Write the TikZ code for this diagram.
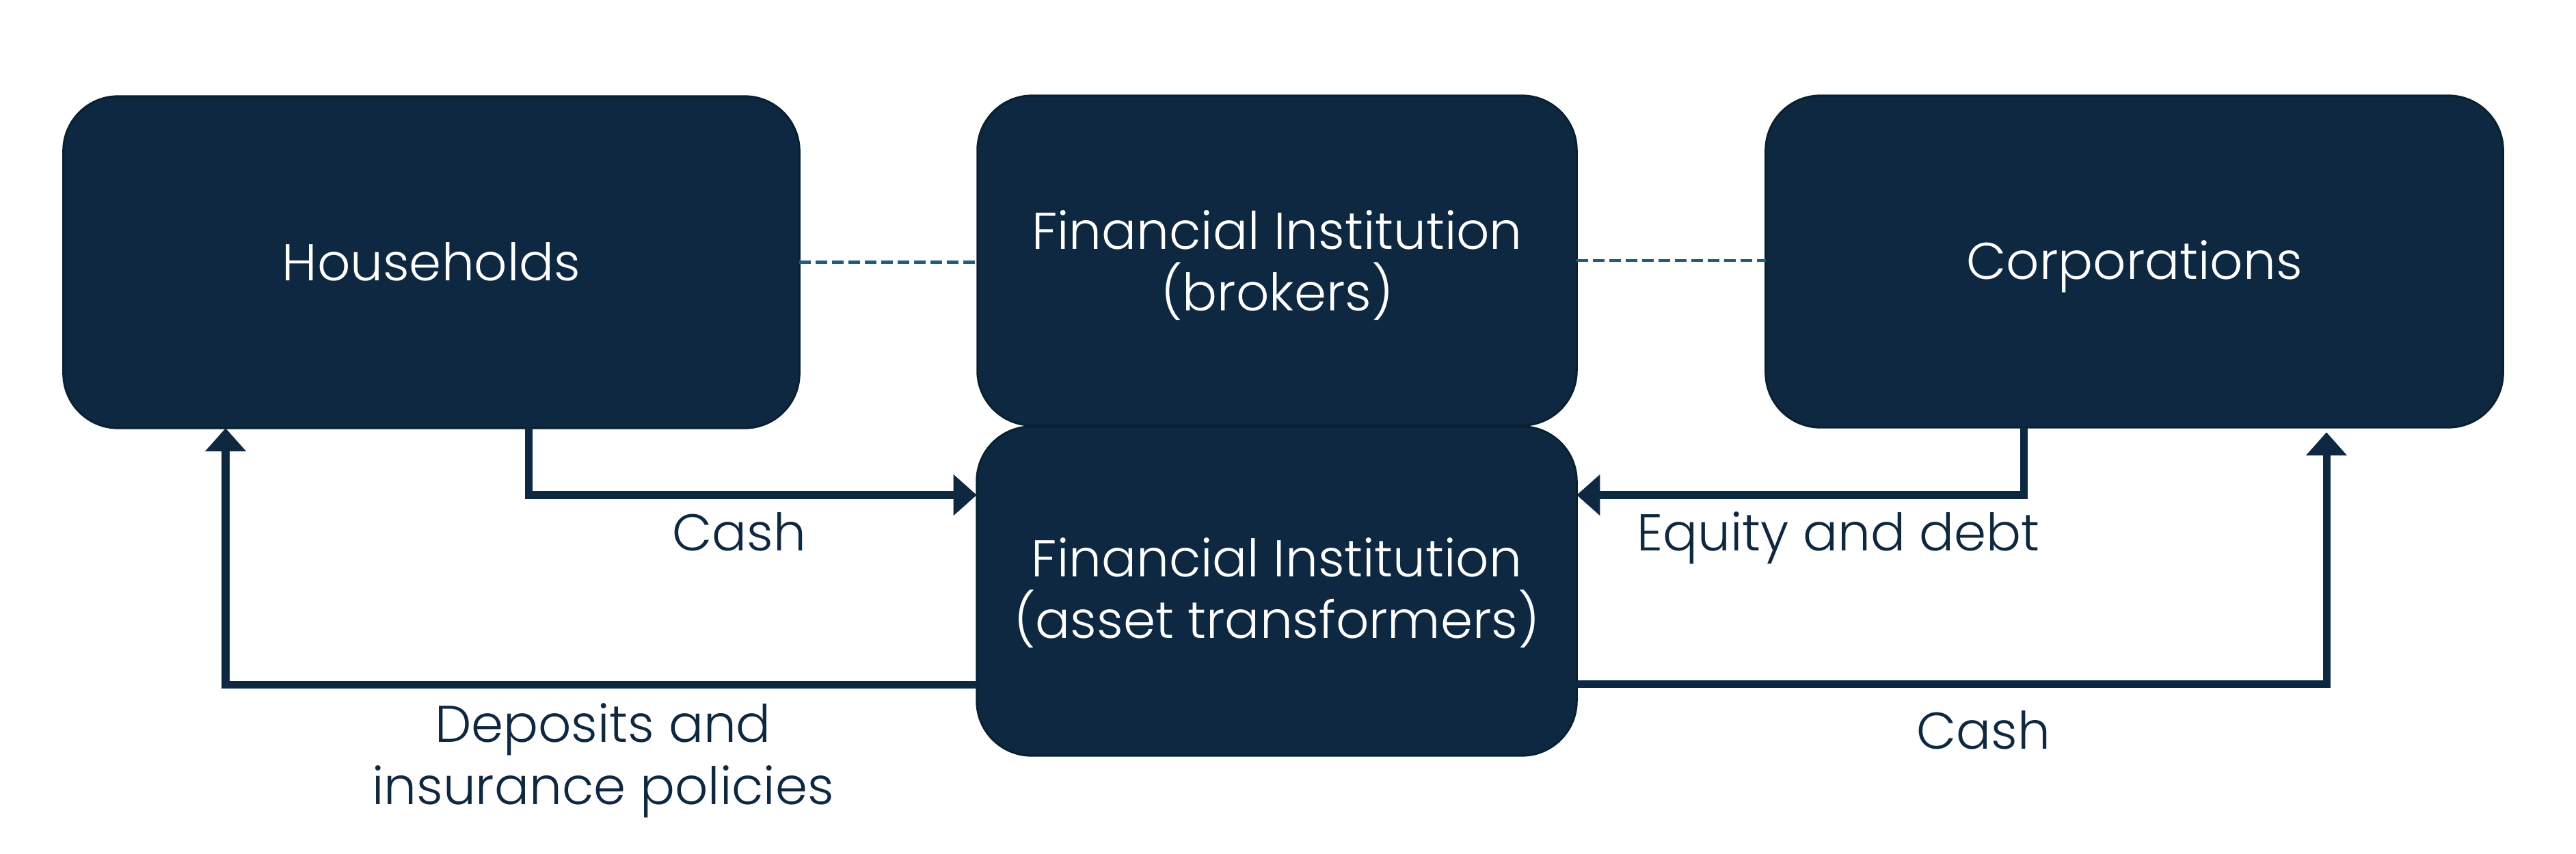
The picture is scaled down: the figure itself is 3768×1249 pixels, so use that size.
\documentclass[tikz,border=0pt]{standalone}
\usepackage{fontspec}
\setmainfont{Poppins}[UprightFont=* Light]
\usetikzlibrary{arrows.meta,calc}
\definecolor{navy}{HTML}{0E2841}
\definecolor{navyedge}{HTML}{08202F}
\definecolor{dashblue}{HTML}{1E5F80}
\begin{document}
\begin{tikzpicture}[x=0.01cm,y=-0.01cm,
  box/.style={draw=navyedge, line width=0.03cm, fill=navy, rounded corners=0.8cm,
    text=white, align=center, inner sep=0pt, outer sep=0pt,
    font=\fontsize{21.5}{25.6}\selectfont, text depth=0.25cm},
  link/.style={draw=dashblue, line width=0.045cm, dash pattern=on 0.17cm off 0.07cm},
  flow/.style={draw=navy, line width=0.11cm, -{Triangle[length=0.34cm,width=0.58cm]}},
  lbl/.style={text=navy, align=center, inner sep=0pt,
    font=\fontsize{21.5}{25.6}\selectfont}]
\useasboundingbox (0,0) rectangle (3768,1249);
\fill[white] (0,0) rectangle (3768,1249);
% boxes
\node[box, text height=0.78cm, minimum width=10.76cm, minimum height=4.85cm] (hh) at (631,383.5) {Households};
\node[box, text height=1.71cm, minimum width=8.76cm, minimum height=4.82cm] (br) at (1868,381) {Financial Institution\\(brokers)};
\node[box, text height=1.62cm, minimum width=8.77cm, minimum height=4.81cm] (at) at (1867.5,864.5) {Financial Institution\\(asset transformers)};
\node[box, text height=0.76cm, minimum width=10.78cm, minimum height=4.85cm] (co) at (3122,382.5) {Corporations};
% dashed links
\draw[link] (hh.east) -- (hh.east -| br.west);
\draw[link] (br.east) -- (br.east -| co.west);
% flows
\draw[flow] ($(hh.south)+(142,0)$) |- ($(at.west)+(0,-140.5)$);
\draw[flow] ($(at.west)+(0,137)$) -| ($(hh.south)+(-301,0)$);
\draw[flow] ($(co.south)+(-162,0)$) |- ($(at.east)+(0,-140.5)$);
\draw[flow] ($(at.east)+(0,136)$) -| ($(co.south)+(281,7)$);
% labels
\node[lbl, anchor=base] (l1) at (1081,805) {Cash};
\node[lbl, anchor=base] (l2) at (882,1176) {Deposits and\\insurance policies};
\node[lbl, anchor=base] (l3) at (2689,805) {Equity and debt};
\node[lbl, anchor=base] (l4) at (2901,1095) {Cash};
\end{tikzpicture}
\end{document}
